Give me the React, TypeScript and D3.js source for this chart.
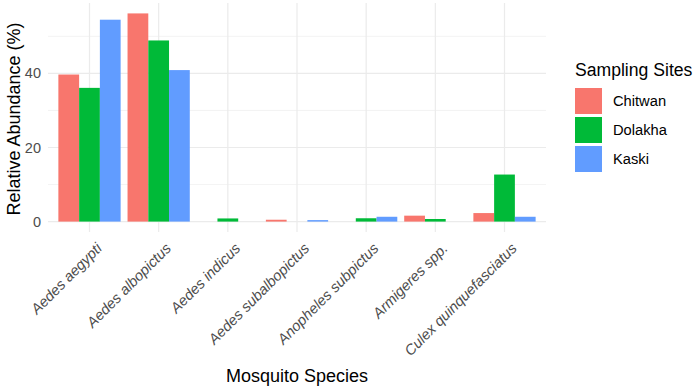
import React, { useEffect, useRef } from "react";
import * as d3 from "d3";

const species = [
  "Aedes aegypti",
  "Aedes albopictus",
  "Aedes indicus",
  "Aedes subalbopictus",
  "Anopheles subpictus",
  "Armigeres spp.",
  "Culex quinquefasciatus",
];
const sites = ["Chitwan", "Dolakha", "Kaski"];
const chitwan = [39.7, 56.2, 0, 0.5, 0, 1.6, 2.3];
const dolakha = [36.1, 48.9, 0.85, 0, 0.9, 0.7, 12.7];
const kaski = [54.5, 40.9, 0, 0.4, 1.3, 0, 1.3];
const yTicks = [0, 20, 40];
const yMinor = [10, 30, 50];
const siteColors = ["#F8766D", "#00BA38", "#619CFF"];

const font = "'Liberation Sans', Arial, sans-serif";

export default function App() {
  const ref = useRef<SVGSVGElement>(null);

  useEffect(() => {
    const width = 697;
    const height = 389;
    const margin = { top: 3, right: 151, bottom: 157, left: 48 };
    const innerWidth = width - margin.left - margin.right;
    const innerHeight = height - margin.top - margin.bottom;

    const series = [chitwan, dolakha, kaski];
    const rows = species.flatMap((s, i) =>
      sites.map((site, j) => ({ species: s, site, value: series[j][i], color: siteColors[j] }))
    );
    const maxVal = d3.max(rows, d => d.value) as number;

    const svg = d3.select(ref.current).attr("width", width).attr("height", height);
    svg.selectAll("*").remove();

    const g = svg.append("g").attr("transform", `translate(${margin.left}, ${margin.top})`);

    const xScale = d3.scaleBand().domain(species).range([0, innerWidth]).paddingInner(0.1).paddingOuter(0.15);
    const xInner = d3.scaleBand().domain(sites).range([0, xScale.bandwidth()]);
    const yScale = d3.scaleLinear().domain([-maxVal * 0.05, maxVal * 1.05]).range([innerHeight, 0]);
    const xMid = (d: string) => (xScale(d) as number) + xScale.bandwidth() / 2;

    // gridlines
    g.selectAll(".minor").data(yMinor).join("line")
      .attr("x1", 0).attr("x2", innerWidth)
      .attr("y1", d => yScale(d)).attr("y2", d => yScale(d))
      .attr("stroke", "#EBEBEB").attr("stroke-width", 0.6);
    g.selectAll(".major").data(yTicks).join("line")
      .attr("x1", 0).attr("x2", innerWidth)
      .attr("y1", d => yScale(d)).attr("y2", d => yScale(d))
      .attr("stroke", "#EBEBEB").attr("stroke-width", 1.2);
    g.selectAll(".vgrid").data(species).join("line")
      .attr("x1", xMid).attr("x2", xMid)
      .attr("y1", 0).attr("y2", innerHeight)
      .attr("stroke", "#EBEBEB").attr("stroke-width", 1.2);

    // bars
    g.selectAll("rect.bar").data(rows).join("rect")
      .attr("x", d => (xScale(d.species) as number) + (xInner(d.site) as number))
      .attr("width", xInner.bandwidth())
      .attr("y", d => yScale(d.value))
      .attr("height", d => yScale(0) - yScale(d.value))
      .attr("fill", d => d.color);

    // y tick labels
    g.selectAll(".ylab").data(yTicks).join("text")
      .attr("x", -7).attr("y", d => yScale(d))
      .attr("dy", "0.35em").attr("text-anchor", "end")
      .attr("font-family", font).attr("font-size", 14.5).attr("fill", "#4D4D4D")
      .text(d => d);

    // x tick labels
    g.selectAll(".xlab").data(species).join("text")
      .attr("transform", d => `translate(${xMid(d) + 6}, ${innerHeight + 10}) rotate(-45)`)
      .attr("text-anchor", "end").attr("dy", "0.7em")
      .attr("font-family", font).attr("font-size", 14.7).attr("font-style", "italic").attr("fill", "#4D4D4D")
      .text(d => d);

    // X axis title
    g.append("text")
      .attr("text-anchor", "middle")
      .attr("x", innerWidth / 2)
      .attr("y", 382 - margin.top)
      .attr("font-family", font).attr("font-size", 18)
      .text("Mosquito Species");

    // Y axis title
    g.append("text")
      .attr("text-anchor", "middle")
      .attr("transform", "rotate(-90)")
      .attr("x", -yScale(27.7))
      .attr("y", -28)
      .attr("font-family", font).attr("font-size", 18)
      .text("Relative Abundance (%)");

    // legend
    const legend = svg.append("g").attr("transform", "translate(575, 0)");
    legend.append("text")
      .attr("x", 0).attr("y", 76)
      .attr("font-family", font).attr("font-size", 17.6)
      .text("Sampling Sites");
    const items = legend.selectAll(".item").data(sites).join("g")
      .attr("transform", (d, i) => `translate(0, ${88 + i * 29})`);
    items.append("rect").attr("width", 27).attr("height", 26)
      .attr("fill", (d, i) => siteColors[i]);
    items.append("text")
      .attr("x", 38).attr("y", 13).attr("dy", "0.35em")
      .attr("font-family", font).attr("font-size", 14.7)
      .text(d => d);
  }, []);

  return <svg ref={ref} style={{ position: "absolute", left: 0, top: 0 }}></svg>;
}
